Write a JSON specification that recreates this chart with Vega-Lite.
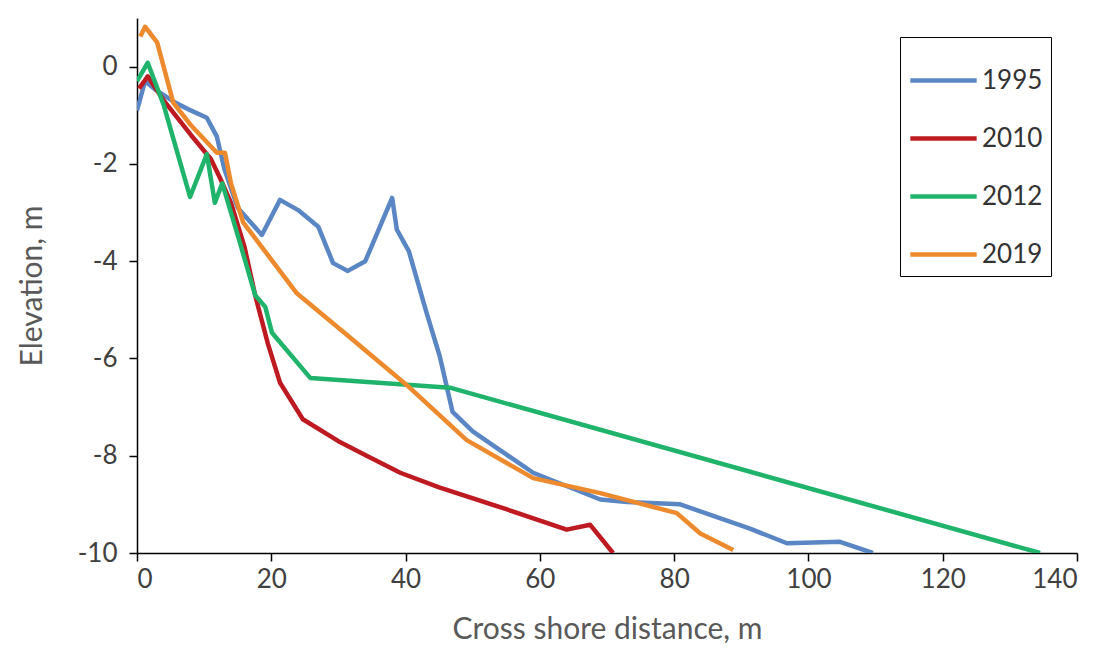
{
"$schema":"https://vega.github.io/schema/vega-lite/v6.json",
"width":940,"height":535,
"autosize":{"type":"none"},
"padding":{"left":137,"top":18,"right":33,"bottom":99},
"background":"white",
"config":{"view":{"stroke":null},"font":"Lato"},
"data":{"values":[
{"year":"1995","i":1,"x":0,"y":-0.9},{"year":"1995","i":2,"x":1.2,"y":-0.3},{"year":"1995","i":3,"x":3,"y":-0.5},{"year":"1995","i":4,"x":5.7,"y":-0.74},{"year":"1995","i":5,"x":8,"y":-0.9},{"year":"1995","i":6,"x":10.4,"y":-1.05},{"year":"1995","i":7,"x":11.9,"y":-1.44},{"year":"1995","i":8,"x":13,"y":-2.1},{"year":"1995","i":9,"x":15,"y":-2.9},{"year":"1995","i":10,"x":18.6,"y":-3.46},{"year":"1995","i":11,"x":21.3,"y":-2.74},{"year":"1995","i":12,"x":24,"y":-2.95},{"year":"1995","i":13,"x":27,"y":-3.29},{"year":"1995","i":14,"x":29.2,"y":-4.04},{"year":"1995","i":15,"x":31.4,"y":-4.2},{"year":"1995","i":16,"x":34,"y":-4.0},{"year":"1995","i":17,"x":38,"y":-2.7},{"year":"1995","i":18,"x":38.7,"y":-3.35},{"year":"1995","i":19,"x":40.5,"y":-3.8},{"year":"1995","i":20,"x":43,"y":-5.0},{"year":"1995","i":21,"x":45.1,"y":-5.96},{"year":"1995","i":22,"x":47,"y":-7.1},{"year":"1995","i":23,"x":50,"y":-7.5},{"year":"1995","i":24,"x":59,"y":-8.35},{"year":"1995","i":25,"x":69,"y":-8.9},{"year":"1995","i":26,"x":73,"y":-8.95},{"year":"1995","i":27,"x":80.9,"y":-9.0},{"year":"1995","i":28,"x":91.3,"y":-9.5},{"year":"1995","i":29,"x":96.8,"y":-9.8},{"year":"1995","i":30,"x":104.7,"y":-9.77},{"year":"1995","i":31,"x":109.6,"y":-10},
{"year":"2010","i":1,"x":0.3,"y":-0.45},{"year":"2010","i":2,"x":1.6,"y":-0.2},{"year":"2010","i":3,"x":4,"y":-0.7},{"year":"2010","i":4,"x":8,"y":-1.4},{"year":"2010","i":5,"x":11,"y":-1.9},{"year":"2010","i":6,"x":12.4,"y":-2.3},{"year":"2010","i":7,"x":14,"y":-2.8},{"year":"2010","i":8,"x":16,"y":-3.7},{"year":"2010","i":9,"x":17.6,"y":-4.7},{"year":"2010","i":10,"x":19.5,"y":-5.7},{"year":"2010","i":11,"x":21.3,"y":-6.5},{"year":"2010","i":12,"x":24.7,"y":-7.25},{"year":"2010","i":13,"x":30,"y":-7.7},{"year":"2010","i":14,"x":34.2,"y":-8.0},{"year":"2010","i":15,"x":39.2,"y":-8.35},{"year":"2010","i":16,"x":45,"y":-8.65},{"year":"2010","i":17,"x":55,"y":-9.1},{"year":"2010","i":18,"x":64,"y":-9.52},{"year":"2010","i":19,"x":67.5,"y":-9.42},{"year":"2010","i":20,"x":70.9,"y":-10},
{"year":"2012","i":1,"x":0,"y":-0.3},{"year":"2012","i":2,"x":1.6,"y":0.08},{"year":"2012","i":3,"x":4,"y":-0.8},{"year":"2012","i":4,"x":7.9,"y":-2.68},{"year":"2012","i":5,"x":10.4,"y":-1.8},{"year":"2012","i":6,"x":11.6,"y":-2.8},{"year":"2012","i":7,"x":12.7,"y":-2.4},{"year":"2012","i":8,"x":14,"y":-3.0},{"year":"2012","i":9,"x":15.5,"y":-3.7},{"year":"2012","i":10,"x":17.6,"y":-4.7},{"year":"2012","i":11,"x":19.1,"y":-4.94},{"year":"2012","i":12,"x":20.1,"y":-5.47},{"year":"2012","i":13,"x":25.8,"y":-6.4},{"year":"2012","i":14,"x":46.6,"y":-6.6},{"year":"2012","i":15,"x":134.5,"y":-10},
{"year":"2019","i":1,"x":0.5,"y":0.62},{"year":"2019","i":2,"x":1.2,"y":0.82},{"year":"2019","i":3,"x":3,"y":0.5},{"year":"2019","i":4,"x":5.4,"y":-0.74},{"year":"2019","i":5,"x":8,"y":-1.2},{"year":"2019","i":6,"x":11.9,"y":-1.77},{"year":"2019","i":7,"x":13.1,"y":-1.77},{"year":"2019","i":8,"x":14,"y":-2.4},{"year":"2019","i":9,"x":15.8,"y":-3.2},{"year":"2019","i":10,"x":23.8,"y":-4.66},{"year":"2019","i":11,"x":32,"y":-5.6},{"year":"2019","i":12,"x":40.2,"y":-6.55},{"year":"2019","i":13,"x":49.1,"y":-7.68},{"year":"2019","i":14,"x":59,"y":-8.46},{"year":"2019","i":15,"x":69,"y":-8.77},{"year":"2019","i":16,"x":80.4,"y":-9.18},{"year":"2019","i":17,"x":83.9,"y":-9.6},{"year":"2019","i":18,"x":88.8,"y":-9.94}
]},
"mark":{"type":"line","strokeWidth":4.5,"strokeJoin":"round","clip":true},
"encoding":{
"x":{"field":"x","type":"quantitative","scale":{"domain":[0,140],"nice":false,"zero":false},
 "axis":{"title":"Cross shore distance, m","values":[0,20,40,60,80,100,120,140],"grid":false,"domainColor":"#000","domainWidth":1.5,"tickColor":"#000","tickSize":8,"tickWidth":1.5,"labelFontSize":26,"labelColor":"#404040","labelPadding":5,"labelExpr":"''+datum.value","titleFontSize":30,"titleFontWeight":"normal","titleColor":"#595959","titlePadding":22}},
"y":{"field":"y","type":"quantitative","scale":{"domain":[-10,1],"nice":false,"zero":false},
 "axis":{"title":"Elevation, m","values":[0,-2,-4,-6,-8,-10],"grid":false,"domainColor":"#000","domainWidth":1.5,"tickColor":"#000","tickSize":8,"tickWidth":1.5,"labelFontSize":26,"labelColor":"#404040","labelPadding":12,"labelExpr":"''+datum.value","titleFontSize":30,"titleFontWeight":"normal","titleColor":"#595959","titlePadding":30}},
"color":{"field":"year","type":"nominal","scale":{"domain":["1995","2010","2012","2019"],"range":["#5a86c4","#be1a22","#1fb36b","#ee8a2e"]},
 "legend":{"title":null,"orient":"none","legendX":763,"legendY":19,"symbolType":"stroke","symbolSize":4400,"symbolStrokeWidth":4.5,"labelFontSize":26,"labelColor":"#333","labelOffset":3,"strokeColor":"#000","padding":8,"rowPadding":9,"offset":0}},
"order":{"field":"i","type":"quantitative"}
}
}
